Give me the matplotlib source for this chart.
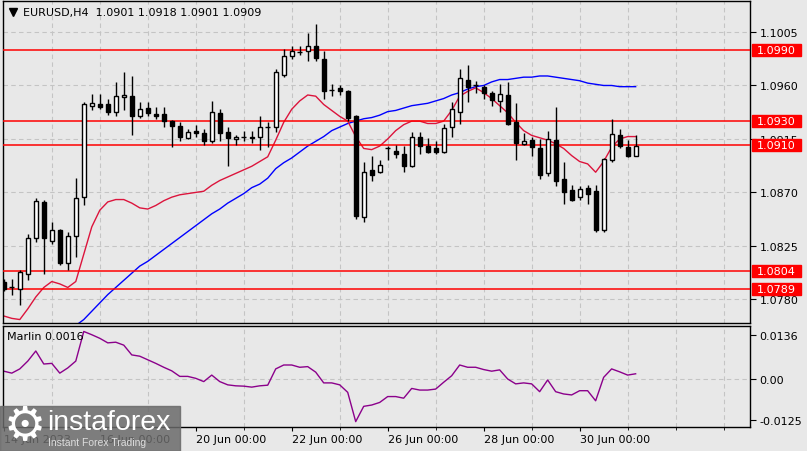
import numpy as np
import matplotlib.pyplot as plt
from matplotlib.patches import Rectangle
from matplotlib.transforms import blended_transform_factory

# EURUSD H4, one candle per 4 hours starting 14 Jun 2023 00:00
opens = [
    1.0795, 1.0790, 1.0789, 1.0801, 1.0832, 1.0862, 1.0829, 1.0838, 1.0811, 1.0833,
    1.0866, 1.0943, 1.0944, 1.0944, 1.0938, 1.0950, 1.0951, 1.0934, 1.0941, 1.0936,
    1.0936, 1.0930, 1.0926, 1.0916, 1.0922, 1.0920, 1.0913, 1.0937, 1.0921, 1.0915,
    1.0917, 1.0916, 1.0917, 1.0925, 1.0925, 1.0969, 1.0985, 1.0988, 1.0989, 1.0993,
    1.0982, 1.0956, 1.0958, 1.0955, 1.0934, 1.0849, 1.0889, 1.0887, 1.0907, 1.0905,
    1.0902, 1.0892, 1.0917, 1.0909, 1.0907, 1.0904, 1.0925, 1.0938, 1.0965, 1.0960,
    1.0959, 1.0954, 1.0947, 1.0952, 1.0929, 1.0911, 1.0914, 1.0907, 1.0886, 1.0914,
    1.0881, 1.0872, 1.0866, 1.0874, 1.0871, 1.0838, 1.0897, 1.0918, 1.0908, 1.0901,
]
highs = [
    1.0797, 1.0797, 1.0805, 1.0835, 1.0865, 1.0864, 1.0845, 1.0839, 1.0837, 1.0882,
    1.0946, 1.0953, 1.0953, 1.0949, 1.0963, 1.0971, 1.0968, 1.0946, 1.0946, 1.0942,
    1.0942, 1.0931, 1.0929, 1.0923, 1.0927, 1.0923, 1.0947, 1.0940, 1.0925, 1.0918,
    1.0922, 1.0922, 1.0934, 1.0929, 1.0974, 1.0991, 1.0993, 1.0993, 1.1004, 1.1012,
    1.0989, 1.0961, 1.0960, 1.0956, 1.0935, 1.0896, 1.0901, 1.0897, 1.0909, 1.0910,
    1.0909, 1.0921, 1.0921, 1.0916, 1.0913, 1.0928, 1.0946, 1.0974, 1.0977, 1.0964,
    1.0960, 1.0955, 1.0961, 1.0963, 1.0945, 1.0920, 1.0917, 1.0915, 1.0922, 1.0942,
    1.0896, 1.0876, 1.0875, 1.0876, 1.0876, 1.0899, 1.0932, 1.0923, 1.0914, 1.0918,
]
lows = [
    1.0787, 1.0784, 1.0775, 1.0796, 1.0828, 1.0801, 1.0827, 1.0809, 1.0805, 1.0816,
    1.0859, 1.0939, 1.0940, 1.0935, 1.0934, 1.0939, 1.0918, 1.0933, 1.0934, 1.0932,
    1.0925, 1.0908, 1.0913, 1.0915, 1.0917, 1.0910, 1.0912, 1.0913, 1.0892, 1.0910,
    1.0913, 1.0912, 1.0906, 1.0908, 1.0921, 1.0967, 1.0982, 1.0986, 1.0981, 1.0981,
    1.0949, 1.0951, 1.0952, 1.0930, 1.0848, 1.0845, 1.0880, 1.0886, 1.0897, 1.0899,
    1.0887, 1.0891, 1.0902, 1.0903, 1.0902, 1.0903, 1.0917, 1.0928, 1.0946, 1.0954,
    1.0949, 1.0943, 1.0938, 1.0927, 1.0897, 1.0910, 1.0901, 1.0881, 1.0884, 1.0875,
    1.0860, 1.0863, 1.0864, 1.0860, 1.0837, 1.0837, 1.0896, 1.0907, 1.0900, 1.0901,
]
closes = [
    1.0789, 1.0790, 1.0803, 1.0832, 1.0863, 1.0832, 1.0838, 1.0811, 1.0833, 1.0865,
    1.0944, 1.0945, 1.0942, 1.0938, 1.0951, 1.0952, 1.0934, 1.0940, 1.0937, 1.0934,
    1.0930, 1.0926, 1.0917, 1.0921, 1.0920, 1.0913, 1.0938, 1.0920, 1.0916, 1.0917,
    1.0917, 1.0917, 1.0925, 1.0925, 1.0971, 1.0985, 1.0989, 1.0988, 1.0993, 1.0983,
    1.0955, 1.0956, 1.0955, 1.0933, 1.0850, 1.0887, 1.0885, 1.0893, 1.0907, 1.0902,
    1.0892, 1.0917, 1.0909, 1.0904, 1.0904, 1.0924, 1.0940, 1.0966, 1.0959, 1.0960,
    1.0954, 1.0948, 1.0953, 1.0928, 1.0912, 1.0913, 1.0908, 1.0885, 1.0915, 1.0880,
    1.0870, 1.0864, 1.0873, 1.0869, 1.0838, 1.0898, 1.0919, 1.0909, 1.0901, 1.0909,
]
# red (fast) and blue (slow) moving averages
ma_fast = [
    1.0766, 1.0764, 1.0763, 1.0772, 1.0782, 1.0790, 1.0795, 1.0793, 1.0790, 1.0795,
    1.0818, 1.0841, 1.0855, 1.0862, 1.0864, 1.0864, 1.0861, 1.0857, 1.0856, 1.0859,
    1.0863, 1.0866, 1.0868, 1.0869, 1.0870, 1.0871, 1.0876, 1.0880, 1.0883, 1.0886,
    1.0889, 1.0892, 1.0896, 1.0900, 1.0914, 1.0929, 1.0940, 1.0947, 1.0952, 1.0951,
    1.0944, 1.0939, 1.0934, 1.0930, 1.0917, 1.0907, 1.0906, 1.0909, 1.0915, 1.0922,
    1.0927, 1.0930, 1.0930, 1.0928, 1.0928, 1.0930, 1.0939, 1.0951, 1.0955, 1.0958,
    1.0954, 1.0949, 1.0943, 1.0937, 1.0929, 1.0922, 1.0918, 1.0916, 1.0914, 1.0911,
    1.0907, 1.0901, 1.0896, 1.0894, 1.0887, 1.0896, 1.0908, 1.0915, 1.0917, 1.0917,
]
ma_slow = [np.nan] * 9 + [
    1.0758, 1.0763, 1.0770, 1.0777, 1.0784, 1.0790, 1.0796, 1.0802, 1.0808, 1.0812,
    1.0817, 1.0822, 1.0827, 1.0832, 1.0837, 1.0842, 1.0847, 1.0852, 1.0856, 1.0861,
    1.0865, 1.0869, 1.0874, 1.0877, 1.0882, 1.0890, 1.0895, 1.0899, 1.0904, 1.0909,
    1.0913, 1.0917, 1.0922, 1.0925, 1.0928, 1.0930, 1.0932, 1.0933, 1.0935, 1.0938,
    1.0939, 1.0941, 1.0943, 1.0944, 1.0945, 1.0947, 1.0949, 1.0952, 1.0954, 1.0957,
    1.0959, 1.0960, 1.0963, 1.0965, 1.0965, 1.0966, 1.0967, 1.0967, 1.0968, 1.0968,
    1.0967, 1.0966, 1.0965, 1.0964, 1.0962, 1.0961, 1.0960, 1.0960, 1.0959, 1.0959,
    1.0959,
]
marlin = [
    0.0024, 0.0018, 0.0031, 0.0055, 0.0086, 0.0046, 0.0048, 0.0018, 0.0034, 0.0055,
    0.0146, 0.0136, 0.0125, 0.0111, 0.0113, 0.0104, 0.0074, 0.0070, 0.0059, 0.0048,
    0.0036, 0.0025, 0.0008, 0.0008, 0.0002, -0.0008, 0.0012, -0.0008, -0.0018, -0.0021,
    -0.0022, -0.0025, -0.0021, -0.0019, 0.0031, 0.0043, 0.0043, 0.0036, 0.0038, 0.0021,
    -0.0012, -0.0012, -0.0018, -0.0041, -0.0131, -0.0084, -0.0080, -0.0072, -0.0054, -0.0054,
    -0.0059, -0.0029, -0.0034, -0.0034, -0.0031, -0.0010, 0.0010, 0.0043, 0.0036, 0.0036,
    0.0029, 0.0024, 0.0028, 0.0000, -0.0015, -0.0012, -0.0015, -0.0039, -0.0003, -0.0039,
    -0.0046, -0.0049, -0.0036, -0.0036, -0.0067, 0.0005, 0.0031, 0.0022, 0.0012, 0.0016,
]
levels = [1.0990, 1.0930, 1.0910, 1.0804, 1.0789]
price_ticks = [1.1005, 1.0960, 1.0915, 1.0870, 1.0825, 1.0780]
marlin_ticks = [0.0136, 0.0, -0.0125]
marlin_tick_labels = ["0.0136", "0.00", "-0.0125"]
date_ticks = [0, 12, 24, 36, 48, 60, 72]
date_labels = ["14 Jun 2023", "16 Jun 00:00", "20 Jun 00:00", "22 Jun 00:00",
               "26 Jun 00:00", "28 Jun 00:00", "30 Jun 00:00"]

BG = "#e8e8e8"
GRID = "#c4c4c4"
W, H = 807, 452


def style_axes(ax):
    ax.set_facecolor(BG)
    for s in ax.spines.values():
        s.set_color("black")
        s.set_linewidth(1)
    ax.yaxis.tick_right()
    ax.tick_params(axis="y", direction="out", length=4, pad=3, labelsize=8,
                   colors="black")
    ax.set_xticks(np.arange(6, 94, 6), minor=True)
    ax.grid(True, which="minor", axis="x", color=GRID, ls=(0, (4, 3)), lw=0.8)
    ax.set_xlim(-0.1, 93.3)


def draw_candles(ax):
    x = np.arange(len(opens))
    o, h, l, c = (np.array(v) for v in (opens, highs, lows, closes))
    ax.vlines(x, l, h, color="black", lw=1, zorder=3)
    up = c > o
    dn = c < o
    flat = c == o
    ax.bar(x[up], c[up] - o[up], bottom=o[up], width=0.5, color="white",
           edgecolor="black", lw=1, zorder=4)
    ax.bar(x[dn], o[dn] - c[dn], bottom=c[dn], width=0.5, color="black",
           edgecolor="black", lw=1, zorder=4)
    ax.hlines(c[flat], x[flat] - 0.3, x[flat] + 0.3, color="black", lw=1,
              zorder=4)


def main():
    fig = plt.figure(figsize=(W / 100, H / 100), dpi=100, facecolor=BG)
    ax = fig.add_axes([3 / W, 1 - 324 / H, 747 / W, 322 / H])
    ax2 = fig.add_axes([3 / W, 1 - 428 / H, 747 / W, 101 / H])
    style_axes(ax)
    style_axes(ax2)

    # price panel
    ax.set_ylim(1.07601, 1.10311)
    ax.set_yticks(price_ticks)
    ax.set_yticklabels([f"{p:.4f}" for p in price_ticks])
    ax.grid(True, which="major", axis="y", color=GRID, ls=(0, (4, 3)), lw=0.8)
    ax.set_xticks([])
    ax.tick_params(axis="x", which="both", length=0)

    x = np.arange(len(opens))
    ax.plot(x, ma_slow, color="#0000ff", lw=1, zorder=2)
    ax.plot(x, ma_fast, color="#dc143c", lw=1, zorder=2)
    for lv in levels:
        ax.axhline(lv, color="#ff0000", lw=1.1, zorder=2.6)
    draw_candles(ax)

    tr = blended_transform_factory(ax.transAxes, ax.transData)
    for lv in levels:
        ax.add_patch(Rectangle((1 + 2 / 747, lv - 0.00050), 49 / 747, 0.00098,
                               transform=tr, color="#ff0000", clip_on=False,
                               zorder=5))
        ax.text(1 + 7 / 747, lv - 0.00003, f"{lv:.4f}", transform=tr,
                color="white", fontsize=8, ha="left", va="center", zorder=6,
                clip_on=False)

    ax.plot([10 / 747], [1 - 11 / 322], marker="v", ms=6, color="black",
            transform=ax.transAxes, clip_on=False)
    ax.text(20 / 747, 1 - 11 / 322, "EURUSD,H4  1.0901 1.0918 1.0901 1.0909",
            transform=ax.transAxes, fontsize=8, ha="left", va="center",
            color="black")

    # indicator panel
    ax2.plot(x, marlin, color="#8b008b", lw=1)
    ax2.set_ylim(-0.01475, 0.01628)
    ax2.set_yticks(marlin_ticks)
    ax2.set_yticklabels(marlin_tick_labels)
    ax2.axhline(0, color=GRID, ls=(0, (4, 3)), lw=0.8, zorder=0.5)
    ax2.set_xticks(date_ticks)
    ax2.set_xticklabels(date_labels, ha="left")
    ax2.tick_params(axis="x", direction="out", length=3, pad=2, labelsize=8,
                    colors="black")
    ax2.text(4 / 747, 1 - 10 / 101, "Marlin 0.0016", transform=ax2.transAxes,
             fontsize=8, ha="left", va="center")

    # watermark
    fig.add_artist(Rectangle((0, 0), 180 / W, 45 / H, transform=fig.transFigure,
                             color="#6a6a6a", alpha=0.85, zorder=10))
    fig.text(25 / W, 1 - 428 / H, "\u2699", color="white", fontsize=34,
             ha="center", va="center", zorder=11)
    fig.text(47 / W, 1 - 423 / H, "instaforex", color="white", fontsize=20.5,
             family="Liberation Sans", ha="left", va="center", zorder=11)
    fig.text(48 / W, 1 - 443 / H, "Instant Forex Trading", color="#dddddd",
             fontsize=7.5, family="Liberation Sans", ha="left", va="center",
             zorder=11)

    fig.savefig("out.png", dpi=100, facecolor=BG)


if __name__ == "__main__":
    main()
